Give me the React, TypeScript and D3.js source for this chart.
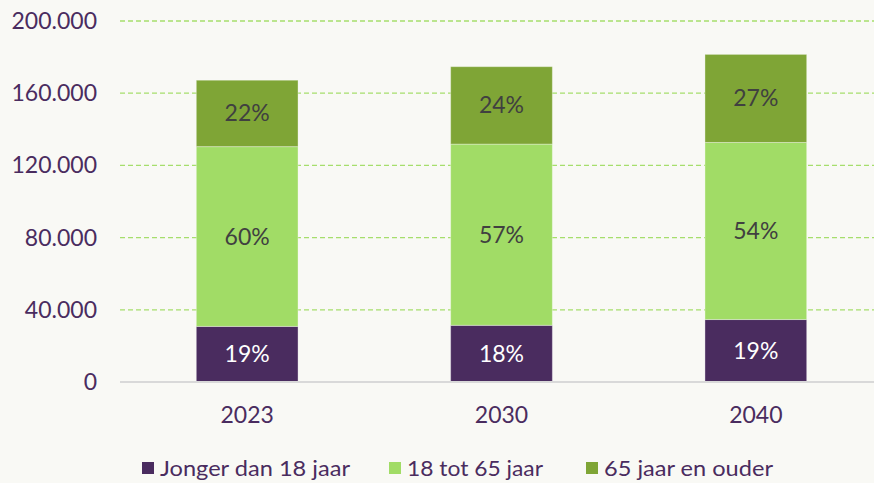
import React, { useEffect, useRef } from 'react';
import * as d3 from 'd3';

// chart data
const years = ['2023', '2030', '2040'];
const seriesNames = ['Jonger dan 18 jaar', '18 tot 65 jaar', '65 jaar en ouder'];
const jonger = [30800, 31400, 34600];
const werkend = [99600, 100400, 98100];
const ouder = [36800, 42900, 48800];
const pctJonger = ['19%', '18%', '19%'];
const pctWerkend = ['60%', '57%', '54%'];
const pctOuder = ['22%', '24%', '27%'];
const yTicks = [0, 40000, 80000, 120000, 160000, 200000];

const colors = ['#4a2c5f', '#a1dc66', '#7fa536'];
const labelColors = ['#ffffff', '#404040', '#404040'];

const App = () => {
  const svgRef = useRef<SVGSVGElement>(null);

  useEffect(() => {
    const svg = d3.select(svgRef.current);
    svg.selectAll('*').remove();

    const width = 874;
    const height = 483;
    const font = 'Lato, "Open Sans", sans-serif';
    const textColor = '#4a2c5f';

    svg.append('rect').attr('width', width).attr('height', height).attr('fill', '#f9f9f5');

    const x = d3.scaleBand().domain(years).range([120, 883]).paddingInner(0.6).paddingOuter(0.3);
    const y = d3.scaleLinear().domain([0, 200000]).range([382, 21]);

    const nl = d3.formatLocale({ decimal: ',', thousands: '.', grouping: [3], currency: ['€', ''] });
    const fmt = nl.format(',d');

    // gridlines
    svg.append('g')
      .selectAll('line')
      .data(yTicks.filter(d => d > 0))
      .enter()
      .append('line')
      .attr('x1', 120)
      .attr('x2', width)
      .attr('y1', d => y(d))
      .attr('y2', d => y(d))
      .attr('stroke', '#a6de6c')
      .attr('stroke-width', 1.3)
      .attr('stroke-dasharray', '5,3');

    // y tick labels
    svg.append('g')
      .selectAll('text')
      .data(yTicks)
      .enter()
      .append('text')
      .attr('x', 97)
      .attr('y', d => y(d))
      .attr('dy', '0.35em')
      .attr('text-anchor', 'end')
      .attr('font-family', font)
      .attr('font-size', 23)
      .attr('fill', textColor)
      .text(d => fmt(d));

    // stacked bars
    const rows = years.map((yr, i) => ({ year: yr, s0: jonger[i], s1: werkend[i], s2: ouder[i] }));
    const stack = d3.stack<any>().keys(['s0', 's1', 's2']);
    const layers = stack(rows);
    const labels = [pctJonger, pctWerkend, pctOuder];

    layers.forEach((layer, li) => {
      const g = svg.append('g');
      g.selectAll('rect')
        .data(layer)
        .enter()
        .append('rect')
        .attr('x', d => x(d.data.year)!)
        .attr('y', d => y(d[1]))
        .attr('width', x.bandwidth())
        .attr('height', d => y(d[0]) - y(d[1]))
        .attr('fill', colors[li])
        .attr('stroke', 'rgba(255,255,255,0.35)')
        .attr('stroke-width', 1);

      g.selectAll('text')
        .data(layer)
        .enter()
        .append('text')
        .attr('x', d => x(d.data.year)! + x.bandwidth() / 2)
        .attr('y', d => (y(d[0]) + y(d[1])) / 2)
        .attr('dy', '0.35em')
        .attr('text-anchor', 'middle')
        .attr('font-family', font)
        .attr('font-size', 23)
        .attr('fill', labelColors[li])
        .text((d, i) => labels[li][i]);
    });

    // baseline
    svg.append('line')
      .attr('x1', 120)
      .attr('x2', width)
      .attr('y1', y(0))
      .attr('y2', y(0))
      .attr('stroke', '#d9d9d9')
      .attr('stroke-width', 2);

    // x labels
    svg.append('g')
      .selectAll('text')
      .data(years)
      .enter()
      .append('text')
      .attr('x', d => x(d)! + x.bandwidth() / 2)
      .attr('y', 415)
      .attr('dy', '0.35em')
      .attr('text-anchor', 'middle')
      .attr('font-family', font)
      .attr('font-size', 23)
      .attr('fill', textColor)
      .text(d => d);

    // legend
    const legendX = [142, 389, 586];
    const legendW = [190, 136, 169];
    const lg = svg.append('g');
    seriesNames.forEach((name, i) => {
      lg.append('rect')
        .attr('x', legendX[i])
        .attr('y', 462)
        .attr('width', 12)
        .attr('height', 12)
        .attr('fill', colors[i]);
      lg.append('text')
        .attr('x', legendX[i] + 18)
        .attr('y', 476)
        .attr('font-family', font)
        .attr('font-size', 22)
        .attr('fill', textColor)
        .attr('textLength', legendW[i])
        .attr('lengthAdjust', 'spacingAndGlyphs')
        .text(name);
    });
  }, []);

  return (
    <svg
      ref={svgRef}
      width={874}
      height={483}
      style={{ position: 'absolute', left: 0, top: 0, display: 'block' }}
    ></svg>
  );
};

export default App;
